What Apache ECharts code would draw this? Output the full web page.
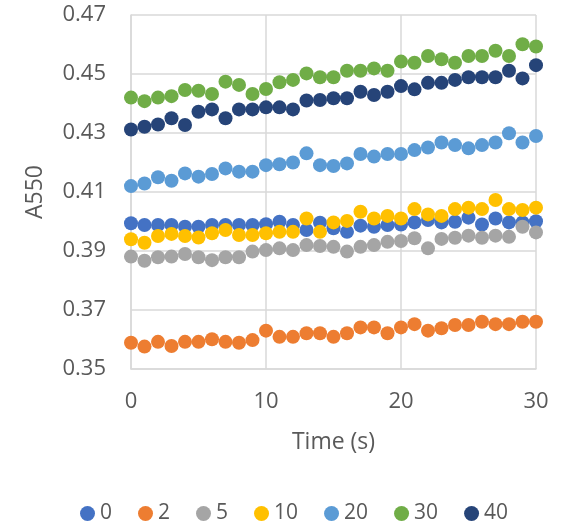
<!DOCTYPE html>
<html>
<head>
<meta charset="utf-8">
<script src="https://cdn.jsdelivr.net/npm/echarts@6/dist/echarts.min.js"></script>
<style>
html,body{margin:0;padding:0;background:#fff;}
#chart{width:561px;height:528px;}
</style>
</head>
<body>
<div id="chart"></div>
<script>
const timeS = [0,1,2,3,4,5,6,7,8,9,10,11,12,13,14,15,16,17,18,19,20,21,22,23,24,25,26,27,28,29,30];
const seriesNames = ['0','2','5','10','20','30','40'];
const seriesColors = ['#4472C4','#ED7D31','#A5A5A5','#FFC000','#5B9BD5','#70AD47','#264478'];
const yTicks = [0.35,0.37,0.39,0.41,0.43,0.45,0.47];

const s0 = [0.3994,0.3988,0.3988,0.3988,0.3982,0.3982,0.3988,0.3988,0.3988,0.3988,0.3991,0.3999,0.3988,0.3971,0.3996,0.3977,0.3965,0.3986,0.3982,0.3988,0.3990,0.3997,0.4005,0.3997,0.3999,0.4013,0.3990,0.4010,0.3997,0.3997,0.4001];
const s2 = [0.3589,0.3576,0.3592,0.3578,0.3592,0.3592,0.3601,0.3592,0.3589,0.3598,0.3630,0.3609,0.3609,0.3621,0.3621,0.3609,0.3621,0.3641,0.3641,0.3621,0.3641,0.3652,0.3630,0.3638,0.3649,0.3649,0.3660,0.3652,0.3652,0.3660,0.3660];
const s5 = [0.3881,0.3867,0.3879,0.3881,0.3890,0.3879,0.3869,0.3879,0.3879,0.3898,0.3903,0.3909,0.3903,0.3920,0.3917,0.3914,0.3898,0.3914,0.3920,0.3931,0.3934,0.3943,0.3909,0.3941,0.3945,0.3952,0.3945,0.3952,0.3948,0.3982,0.3963];
const s10 = [0.3940,0.3928,0.3951,0.3958,0.3951,0.3946,0.3960,0.3971,0.3954,0.3954,0.3960,0.3965,0.3965,0.4010,0.3965,0.3997,0.4002,0.4033,0.4010,0.4019,0.4010,0.4042,0.4024,0.4019,0.4042,0.4047,0.4042,0.4073,0.4042,0.4039,0.4047];
const s20 = [0.4120,0.4129,0.4150,0.4138,0.4163,0.4152,0.4161,0.4180,0.4169,0.4169,0.4191,0.4194,0.4200,0.4231,0.4191,0.4188,0.4197,0.4229,0.4220,0.4229,0.4229,0.4242,0.4251,0.4268,0.4259,0.4248,0.4259,0.4268,0.4299,0.4268,0.4290];
const s30 = [0.4420,0.4408,0.4420,0.4425,0.4446,0.4443,0.4432,0.4474,0.4463,0.4432,0.4449,0.4472,0.4480,0.4502,0.4489,0.4489,0.4511,0.4511,0.4519,0.4511,0.4542,0.4538,0.4561,0.4550,0.4538,0.4561,0.4561,0.4579,0.4561,0.4601,0.4593];
const s40 = [0.4312,0.4321,0.4329,0.4350,0.4327,0.4372,0.4380,0.4350,0.4380,0.4380,0.4387,0.4387,0.4380,0.4410,0.4412,0.4418,0.4418,0.4440,0.4429,0.4440,0.4459,0.4448,0.4470,0.4470,0.4480,0.4489,0.4489,0.4489,0.4511,0.4485,0.4530];
const allValues = [s0,s2,s5,s10,s20,s30,s40];

const FONT = '"Open Sans", Lato, sans-serif';
const TXT = '#595959';
const chart = echarts.init(document.getElementById('chart'), null, {renderer:'canvas'});

const series = seriesNames.map((name, i) => ({
  name: name,
  type: 'scatter',
  symbol: 'circle',
  symbolSize: 14,
  itemStyle: {color: seriesColors[i], opacity: 1},
  data: timeS.map((t, k) => [t, allValues[i][k]]),
  emphasis: {disabled: true}
}));

chart.setOption({
  animation: false,
  backgroundColor: '#fff',
  grid: {left: 131, right: 25, top: 15, bottom: 159, containLabel: false},
  xAxis: {
    type: 'value', min: 0, max: 30, interval: 10,
    name: 'Time (s)', nameLocation: 'middle', nameGap: 62,
    nameTextStyle: {color: TXT, fontSize: 23, fontFamily: FONT},
    axisLine: {show: true, lineStyle: {color: '#D9D9D9', width: 1.5}},
    axisTick: {show: false},
    axisLabel: {color: TXT, fontSize: 22, fontFamily: FONT, margin: 22},
    splitLine: {show: true, lineStyle: {color: '#D9D9D9', width: 1.5}}
  },
  yAxis: {
    type: 'value', min: 0.35, max: 0.47,
    name: 'A550', nameLocation: 'middle', nameGap: 84, nameRotate: 90,
    nameTextStyle: {color: TXT, fontSize: 23, fontFamily: FONT},
    axisLine: {show: true, lineStyle: {color: '#D9D9D9', width: 1.5}},
    axisTick: {show: false, customValues: yTicks},
    axisLabel: {color: TXT, fontSize: 22, fontFamily: FONT, margin: 25, customValues: yTicks,
      formatter: v => v.toFixed(2)},
    splitLine: {show: true, lineStyle: {color: '#D9D9D9', width: 1.5}}
  },
  legend: {
    data: seriesNames,
    left: 75, top: 498,
    icon: 'circle', itemWidth: 15, itemHeight: 15, itemGap: 26,
    textStyle: {color: TXT, fontSize: 21, fontFamily: FONT}
  },
  series: series
});
</script>
</body>
</html>
